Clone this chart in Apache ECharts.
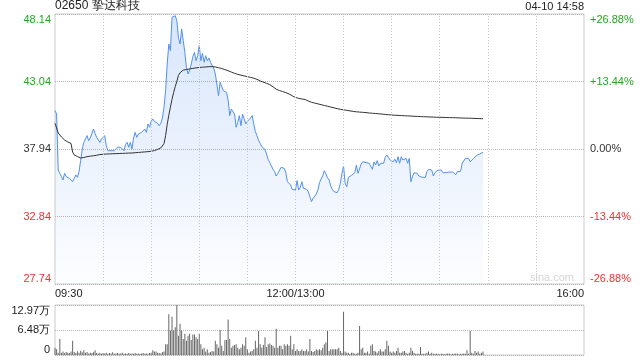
<!DOCTYPE html>
<html>
<head>
<meta charset="utf-8">
<script src="https://cdn.jsdelivr.net/npm/echarts@6/dist/echarts.min.js"></script>
<style>html,body{margin:0;padding:0;background:#fff;}#c{width:640px;height:360px;}</style>
</head>
<body>
<div id="c"></div>
<script>
var stockTitle = '02650 挚达科技';
var stampText = '04-10 14:58';
var prevClose = 37.94;
var priceTicks = [27.74, 32.84, 37.94, 43.04, 48.14];
var pctTickLabels = ['-26.88%', '-13.44%', '0.00%', '+13.44%', '+26.88%'];
var volTickLabels = ['0', '6.48万', '12.97万'];
var xLabelIdx = [0, 150, 330];
var xLabelText = ['09:30', '12:00/13:00', '16:00'];
var xGridIdx = [30, 60, 90, 120, 150, 180, 210, 240, 270, 300];

var price = [
40.84,40.58,36.35,36.10,35.85,35.60,36.10,35.85,35.98,35.72,
35.85,35.47,35.72,35.98,35.80,36.23,37.06,37.94,38.44,38.70,
38.95,38.57,38.77,38.62,39.45,39.12,38.82,38.70,38.44,38.70,
38.57,38.95,38.19,37.81,37.94,37.81,37.87,37.81,37.76,38.07,
37.94,38.07,38.02,37.81,38.27,38.44,38.07,38.44,37.94,38.77,
39.20,38.82,39.07,39.20,39.20,39.33,39.45,39.20,39.83,39.58,
40.03,40.21,40.03,40.08,39.88,39.70,39.88,40.28,41.09,42.35,
44.36,45.87,45.37,47.89,48.01,48.01,47.64,46.38,45.87,47.01,
46.13,45.24,44.11,43.61,43.91,44.36,44.92,45.24,44.61,44.99,
45.75,44.61,45.17,44.49,44.99,44.61,44.82,44.49,44.56,44.06,
43.61,42.85,41.97,42.98,42.85,42.35,42.22,42.22,41.64,40.46,
40.96,40.89,40.58,39.58,39.95,40.46,39.70,40.58,40.21,39.83,
40.03,40.03,40.28,40.46,39.83,39.25,38.95,38.60,38.35,38.12,
37.99,37.91,37.86,37.16,36.91,36.66,36.40,36.23,35.90,36.10,
36.23,36.55,36.40,36.48,36.15,35.47,35.47,35.22,34.89,35.04,
34.84,35.55,34.84,35.04,35.47,34.97,34.97,34.89,34.72,34.34,
33.96,34.21,34.09,34.54,34.84,35.40,35.67,35.92,36.30,36.05,
35.77,35.60,35.14,34.89,34.72,34.59,34.64,34.89,35.35,36.10,
36.66,35.35,35.09,35.80,35.85,35.95,36.00,36.15,36.73,36.10,
35.98,36.81,36.98,36.98,36.91,36.86,36.86,36.86,36.40,36.96,
36.73,37.06,36.66,36.86,36.76,36.86,37.31,37.49,37.31,37.11,
37.11,36.98,37.16,36.91,37.36,36.86,37.36,37.11,37.23,37.23,
36.86,37.23,35.47,35.85,36.15,36.25,36.10,35.90,35.85,35.80,
35.77,35.80,36.23,36.40,36.30,36.35,35.90,36.15,36.30,36.35,
36.25,36.35,36.15,36.23,36.15,36.23,36.20,36.23,36.20,36.10,
36.00,36.23,36.15,36.25,36.86,36.98,37.23,37.11,37.23,36.98,
37.06,37.21,37.36,37.46,37.41,37.56,37.62,37.70
];

var avgPrice = [
39.88,39.53,39.15,39.00,38.85,38.70,38.62,38.54,38.47,38.43,
38.36,37.71,37.49,37.41,37.37,37.33,37.26,37.27,37.30,37.33,
37.36,37.38,37.40,37.42,37.43,37.45,37.47,37.49,37.52,37.53,
37.54,37.55,37.56,37.56,37.57,37.57,37.58,37.58,37.59,37.59,
37.60,37.60,37.61,37.61,37.62,37.62,37.63,37.63,37.64,37.65,
37.66,37.67,37.68,37.69,37.70,37.71,37.72,37.73,37.74,37.75,
37.77,37.79,37.82,37.86,37.91,37.97,38.02,38.12,38.35,38.95,
39.80,40.50,41.10,41.70,42.20,42.65,43.05,43.50,43.70,43.82,
43.90,43.93,43.95,43.97,43.99,44.01,44.03,44.05,44.07,44.08,
44.10,44.11,44.12,44.13,44.14,44.15,44.16,44.16,44.16,44.16,
44.14,44.11,44.08,44.05,44.02,43.98,43.94,43.90,43.85,43.80,
43.75,43.70,43.66,43.62,43.58,43.55,43.52,43.49,43.46,43.44,
43.41,43.38,43.35,43.32,43.29,43.25,43.20,43.14,43.08,43.03,
42.99,42.95,42.90,42.86,42.80,42.72,42.64,42.55,42.46,42.40,
42.36,42.32,42.28,42.24,42.20,42.16,42.10,42.03,41.96,41.89,
41.83,41.80,41.77,41.74,41.72,41.70,41.68,41.62,41.57,41.52,
41.47,41.44,41.41,41.38,41.35,41.32,41.29,41.26,41.23,41.20,
41.17,41.14,41.11,41.08,41.05,41.02,40.99,40.96,40.94,40.92,
40.90,40.88,40.86,40.84,40.82,40.80,40.78,40.77,40.75,40.74,
40.73,40.72,40.71,40.70,40.69,40.67,40.66,40.65,40.64,40.63,
40.62,40.61,40.60,40.59,40.58,40.56,40.55,40.54,40.53,40.52,
40.51,40.50,40.49,40.49,40.48,40.47,40.47,40.46,40.45,40.45,
40.44,40.43,40.43,40.42,40.41,40.41,40.40,40.40,40.39,40.39,
40.38,40.38,40.37,40.37,40.36,40.36,40.35,40.35,40.34,40.34,
40.33,40.33,40.33,40.32,40.32,40.32,40.31,40.31,40.31,40.30,
40.30,40.30,40.29,40.29,40.28,40.28,40.27,40.27,40.27,40.26,
40.26,40.25,40.25,40.25,40.24,40.24,40.23,40.23
];

// volume in 万 shares
var volume = [
1.9,1.5,0.6,4.15,0.6,0.9,0.5,0.8,0.6,0.5,
0.9,3.7,0.8,0.5,1.0,0.6,1.1,0.7,1.2,0.6,
0.8,0.4,0.6,0.5,0.7,1.2,0.5,0.4,0.6,0.3,
0.5,0.4,0.6,0.3,0.5,0.4,0.7,0.3,0.4,0.5,
0.3,0.4,0.6,0.3,0.4,0.3,0.5,0.3,0.4,0.3,
0.5,0.3,0.4,0.3,0.4,0.5,0.3,0.4,0.3,0.5,
0.6,1.2,0.9,0.9,0.6,0.5,0.4,0.8,0.9,2.8,
2.8,10.6,6.35,9.9,6.35,7.2,12.97,5.0,8.1,6.35,
4.15,5.5,3.7,5.0,5.5,3.9,5.3,5.3,4.6,4.15,
5.5,2.8,1.5,1.9,0.9,1.5,0.6,0.8,1.06,0.9,
3.7,2.8,1.9,6.5,2.4,1.06,3.9,3.9,9.2,4.15,
1.9,2.4,2.6,2.8,1.9,1.5,1.9,2.8,2.4,4.6,
1.5,0.6,0.9,1.06,1.5,3.7,1.9,6.2,2.8,1.9,
2.6,4.6,2.1,2.8,3.0,2.6,2.4,1.9,6.8,1.9,
2.4,2.4,1.5,2.8,2.4,2.8,2.4,5.0,1.5,2.8,
1.06,1.5,1.06,1.06,1.5,1.06,1.06,1.5,0.9,4.15,
1.06,0.8,1.06,1.5,1.2,1.5,1.2,1.9,2.8,3.3,
6.2,1.06,1.5,1.5,1.5,1.5,1.5,1.9,1.06,0.6,
11.2,0.9,0.6,0.6,0.35,0.6,0.6,0.35,0.35,0.6,
7.5,1.5,1.9,0.6,0.6,0.9,0.35,2.4,2.8,1.06,
0.9,0.6,1.06,1.5,0.9,0.9,1.5,3.7,2.4,0.9,
0.6,0.9,0.6,1.06,1.9,0.6,0.6,0.9,1.06,0.6,
0.35,0.6,1.9,1.06,0.6,0.35,0.35,0.35,2.1,0.35,
0.35,0.35,0.6,0.9,0.35,0.6,0.35,0.35,0.3,0.3,
0.2,0.3,0.3,0.2,0.3,0.4,0.3,0.2,0.3,0.3,
0.4,0.3,0.2,0.3,0.3,0.4,0.3,1.2,0.35,6.2,
0.6,0.35,1.06,0.6,0.9,0.35,0.6,0.9
];
var volMax = 12.97;

// time categories: 09:30..12:00, 13:01..16:00
function pad(n){ return (n < 10 ? '0' : '') + n; }
var times = [];
for (var t = 9*60+30; t <= 12*60; t++) times.push(pad(Math.floor(t/60)) + ':' + pad(t%60));
for (var t2 = 13*60+1; t2 <= 16*60; t2++) times.push(pad(Math.floor(t2/60)) + ':' + pad(t2%60));

var UP = '#22a722', DOWN = '#f23030', FLAT = '#333';
var FONT = '"Liberation Sans", Arial, Helvetica, sans-serif';
var gridColor = '#cccccc';
var dotColor = '#b4b4b4';
var vDotColor = '#c8c8c8';
var dotted = { show: true, lineStyle: { color: dotColor, type: [1, 1], width: 1 } };

var chart = echarts.init(document.getElementById('c'), null, { renderer: 'canvas' });
chart.setOption({
  animation: false,
  backgroundColor: '#fff',
  textStyle: { fontFamily: FONT },
  title: [
    { text: stockTitle, left: 55, top: 0, padding: 0,
      textStyle: { fontSize: 12, fontWeight: 'normal', color: '#222', fontFamily: FONT } },
    { text: stampText, right: 56, top: 1, padding: 0,
      textStyle: { fontSize: 11, fontWeight: 'normal', color: '#222', fontFamily: FONT } }
  ],
  graphic: [
    { type: 'text', right: 66, top: 272, silent: true,
      style: { text: 'sina.com', fill: '#d4d4d4', font: '11px ' + FONT } }
  ],
  grid: [
    { left: 55, right: 56, top: 14, height: 270, show: true, borderColor: gridColor, borderWidth: 1 },
    { left: 55, right: 56, top: 305, height: 50, show: true, borderColor: gridColor, borderWidth: 1 }
  ],
  xAxis: [
    { type: 'category', gridIndex: 0, data: times, boundaryGap: false,
      axisLine: { show: false }, axisTick: { show: false }, splitLine: { show: false },
      axisLabel: {
        show: true, margin: 4, fontSize: 11, color: '#222', fontFamily: FONT,
        interval: function (i) { return xLabelIdx.indexOf(i) >= 0; },
        formatter: function (v, i) { var k = xLabelIdx.indexOf(i); return k >= 0 ? xLabelText[k] : ''; },
        alignMinLabel: 'left', alignMaxLabel: 'right'
      }
    },
    { type: 'category', gridIndex: 1, data: times, boundaryGap: false,
      axisLine: { show: false }, axisTick: { show: false }, axisLabel: { show: false }, splitLine: { show: false } }
  ],
  yAxis: [
    { type: 'value', gridIndex: 0, position: 'left', min: priceTicks[0], max: priceTicks[priceTicks.length - 1],
      axisLine: { show: false }, axisTick: { show: false, customValues: priceTicks }, splitLine: { show: false },
      axisLabel: {
        customValues: priceTicks, margin: 4, fontSize: 11, fontFamily: FONT,
        formatter: function (v) { return v.toFixed(2); },
        color: function (v) { v = +v; return v > prevClose + 1e-6 ? UP : (v < prevClose - 1e-6 ? DOWN : FLAT); },
        verticalAlignMinLabel: 'bottom', verticalAlignMaxLabel: 'top'
      }
    },
    { type: 'value', gridIndex: 0, position: 'right', min: -26.88, max: 26.88, interval: 13.44,
      axisLine: { show: false }, axisTick: { show: false }, splitLine: dotted,
      axisLabel: {
        margin: 6, fontSize: 11, fontFamily: FONT,
        formatter: function (v, i) { return pctTickLabels[i]; },
        color: function (v) { v = +v; return v > 1e-6 ? UP : (v < -1e-6 ? DOWN : FLAT); },
        verticalAlignMinLabel: 'bottom', verticalAlignMaxLabel: 'top'
      }
    },
    { type: 'value', gridIndex: 1, min: 0, max: volMax, interval: volMax / 2,
      axisLine: { show: false }, axisTick: { show: false }, splitLine: dotted,
      axisLabel: {
        margin: 5, fontSize: 11, color: '#222', fontFamily: FONT,
        formatter: function (v, i) { return volTickLabels[i]; },
        verticalAlignMinLabel: 'bottom', verticalAlignMaxLabel: 'top'
      }
    }
  ],
  series: [
    { type: 'line', xAxisIndex: 0, yAxisIndex: 0, data: price, showSymbol: false, symbol: 'none',
      lineStyle: { color: '#5290ef', width: 1 },
      areaStyle: { origin: 'start', color: new echarts.graphic.LinearGradient(0, 0, 0, 1, [
        { offset: 0, color: 'rgba(82,144,239,0.32)' },
        { offset: 1, color: 'rgba(82,144,239,0.02)' }
      ]) },
      markLine: {
        silent: true, animation: false, symbol: ['none', 'none'], label: { show: false },
        lineStyle: { color: vDotColor, type: [1, 2], width: 1, opacity: 1 },
        emphasis: { disabled: true },
        data: xGridIdx.map(function (i) { return { xAxis: times[i], lineStyle: { color: vDotColor, type: [1, 2], width: 1 } }; })
      },
      z: 3 },
    { type: 'line', xAxisIndex: 0, yAxisIndex: 0, data: avgPrice, showSymbol: false, symbol: 'none',
      lineStyle: { color: '#333', width: 1 }, z: 4 },
    { type: 'bar', xAxisIndex: 1, yAxisIndex: 2, data: volume, barWidth: 1,
      itemStyle: { color: '#666' } }
  ]
});
</script>
</body>
</html>
